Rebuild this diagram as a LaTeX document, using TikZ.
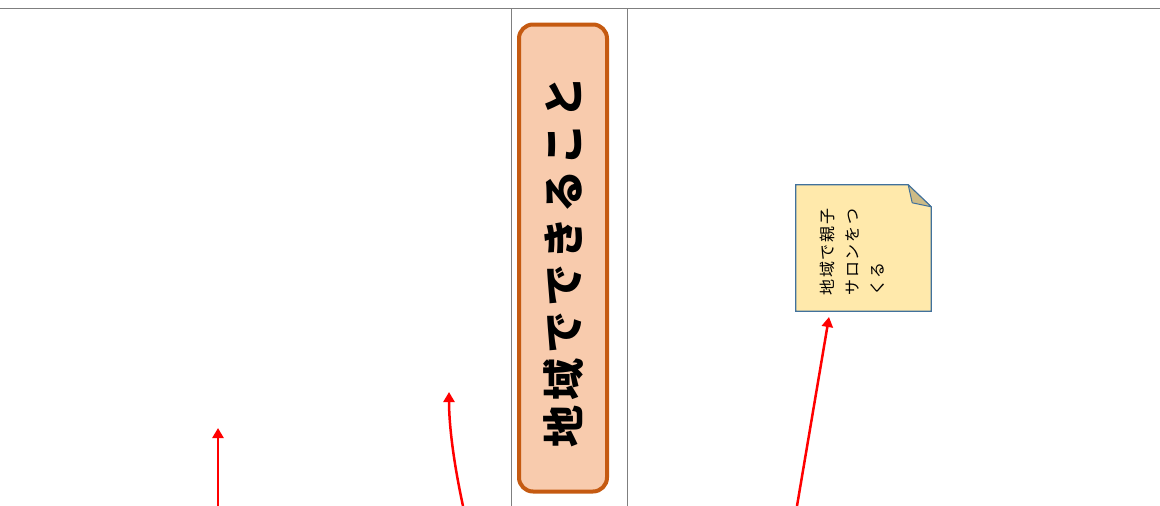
\documentclass[tikz,border=0pt]{standalone}
\usepackage{fontspec}
\newfontfamily\jpbig[LetterSpace=12]{Noto Sans CJK JP}
\newfontfamily\jpnote[LetterSpace=11]{Noto Sans CJK JP}
\usetikzlibrary{arrows.meta}
\usetikzlibrary{positioning}
\definecolor{boxfill}{HTML}{F8CBAD}
\definecolor{boxline}{HTML}{C55A11}
\definecolor{notefill}{HTML}{FFE9AB}
\definecolor{notefold}{HTML}{CDBB86}
\definecolor{noteline}{HTML}{41719C}
\definecolor{rulegray}{HTML}{7F7F7F}

\begin{document}
\begin{tikzpicture}[x=1pt, y=-1pt,
  rulerline/.style={rulegray, line width=1pt},
  bigbox/.style={rotate=90, draw=boxline, fill=boxfill, line width=4pt, rounded corners=14pt,
                 minimum width=467pt, minimum height=88pt, inner sep=0pt},
  notebox/.style={minimum width=135pt, minimum height=126pt, inner sep=0pt},
  redarrow/.style={red, line width=2.5pt, -{Triangle[width=11pt,length=10pt]}}]

 \useasboundingbox (0,0) rectangle (1160,506);

 %frame
 \def\ytop{8}
 \draw[rulerline] (0,\ytop) -- (1160,\ytop);
 \foreach \xx in {511, 627} {
     \draw[rulerline] (\xx,\ytop) -- (\xx,506);
 }

 %middle column
 \node[bigbox] (title) at (563,258) {};
 \node[rotate=90, inner sep=0pt, font=\jpbig\bfseries\fontsize{42}{46}\selectfont] (titletext) at (564,262) {地域でできること};

 %sticky note
 \node[notebox] (note) at (863.5,248) {};
 \draw[noteline, fill=notefill, line width=1.2pt]
    (note.north west) -- ([xshift=-23pt]note.north east) -- ([yshift=-22pt]note.north east)
    -- (note.south east) -- (note.south west) -- cycle;
 \draw[noteline, fill=notefold, line width=1pt, line join=round]
    ([xshift=-23pt]note.north east) -- ([yshift=-22pt]note.north east)
    -- ([xshift=-19pt, yshift=-18pt]note.north east) -- cycle;
 \node[rotate=90, align=left, inner sep=0pt, font=\jpnote\fontsize{16}{25}\selectfont] (notetext) at (852,252)
    {地域で親子\\サロンをつ\\くる};

 %arrows
 \coordinate (a1s) at (218,506);
 \coordinate (a1e) at (218,428);
 \coordinate (a2s) at (463,506);
 \coordinate (a2e) at (449,392);
 \coordinate (a3s) at (797,506);
 \coordinate (a3e) at (829,317);
 \draw[redarrow] (a1s) -- (a1e);
 \draw[redarrow] (a2s) .. controls (452,455) and (449,420) .. (a2e);
 \draw[redarrow] (a3s) -- (a3e);

\end{tikzpicture}
\end{document}
